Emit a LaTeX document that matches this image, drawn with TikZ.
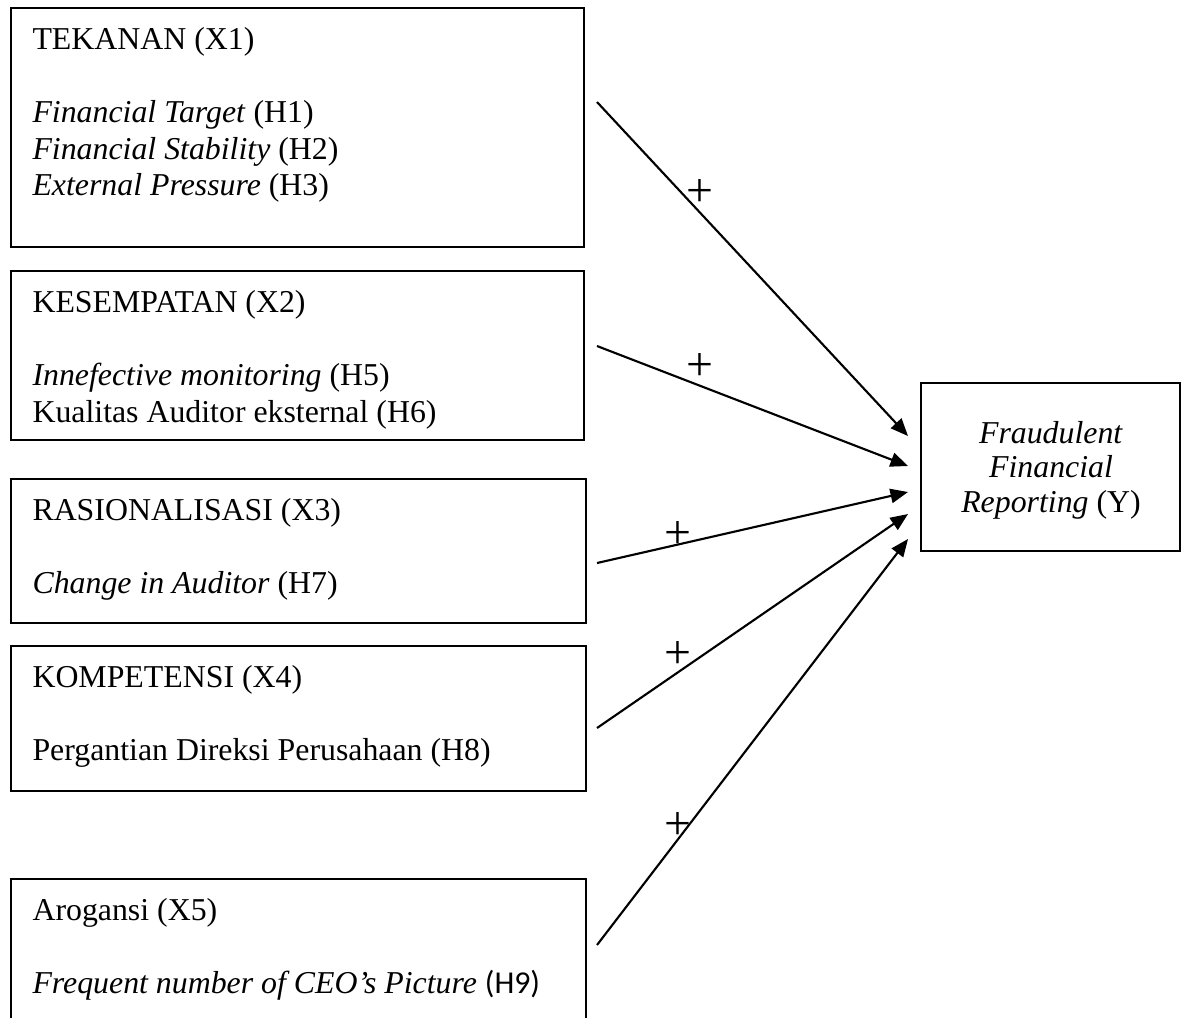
\documentclass[tikz,border=0pt]{standalone}
\usepackage{fontspec}
\setmainfont{Liberation Serif}
\newfontfamily\calibri{Carlito}
\usetikzlibrary{arrows.meta,fit}

\tikzset{
  varbox/.style={draw, line width=0.9pt, inner sep=0pt},
  txt/.style={anchor=base west, inner sep=0pt, font=\fontsize{12}{14}\selectfont},
  plus/.style={inner sep=0pt, font=\fontsize{18}{18}\selectfont},
  arr/.style={-{Triangle[length=6.6pt,width=5.4pt]}, line width=0.8pt}
}

\begin{document}
\begin{tikzpicture}[x=0.377pt, y=-0.377pt]
          \useasboundingbox (0,0) rectangle (1186,1017);
          \clip (0,0) rectangle (1186,1017);

          % variable boxes
          \node[varbox, fit={(11,8) (584,247)}] (tekanan) {};
          \node[varbox, fit={(11,271) (584,440)}] (kesempatan) {};
          \node[varbox, fit={(11,479) (586,623)}] (rasionalisasi) {};
          \node[varbox, fit={(11,646) (586,791)}] (kompetensi) {};
          \node[varbox, fit={(11,879) (586,1040)}] (arogansi) {};

          \node[txt] (x1) at (32,49) {TEKANAN (X1)};
          \node[txt] (h1) at (32,122) {\textit{Financial Target} (H1)};
          \node[txt] (h2) at (32,159) {\textit{Financial Stability} (H2)};
          \node[txt] (h3) at (32,195) {\textit{External Pressure} (H3)};

          \node[txt] (x2) at (32,312) {KESEMPATAN (X2)};
          \node[txt] (h5) at (32,385) {\textit{Innefective monitoring} (H5)};
          \node[txt] (h6) at (32,422) {Kualitas Auditor eksternal (H6)};

          \node[txt] (x3) at (32,520) {RASIONALISASI (X3)};
          \node[txt] (h7) at (32,593) {\textit{Change in Auditor} (H7)};

          \node[txt] (x4) at (32,687) {KOMPETENSI (X4)};
          \node[txt] (h8) at (32,760) {Pergantian Direksi Perusahaan (H8)};

          \node[txt] (x5) at (32,920) {Arogansi (X5)};
          \node[txt] (h9) at (32,993) {\textit{Frequent number of CEO’s Picture} {\calibri (H9)}};

          % dependent variable
          \node[varbox, fit={(921,383) (1180,551)}] (fraud) {};
          \node[align=center, inner sep=0pt, font=\fontsize{12}{13}\selectfont]
                (fraudtxt) at (1051,470)
                {\textit{Fraudulent}\\\textit{Financial}\\\textit{Reporting} (Y)};

          \coordinate (s1) at (597,102);  \coordinate (e1) at (908,436);
          \coordinate (s2) at (597,346);  \coordinate (e2) at (908,466);
          \coordinate (s3) at (597,563);  \coordinate (e3) at (908,492);
          \coordinate (s4) at (597,728);  \coordinate (e4) at (908,514);
          \coordinate (s5) at (597,945);  \coordinate (e5) at (908,539);

          \draw[arr] (s1) -- (e1);
          \draw[arr] (s2) -- (e2);
          \draw[arr] (s3) -- (e3);
          \draw[arr] (s4) -- (e4);
          \draw[arr] (s5) -- (e5);

          \node[plus] (p1) at (700,193) {+};
          \node[plus] (p2) at (700,367) {+};
          \node[plus] (p3) at (678,535) {+};
          \node[plus] (p4) at (678,655) {+};
          \node[plus] (p5) at (678,826) {+};

        \end{tikzpicture}
\end{document}
